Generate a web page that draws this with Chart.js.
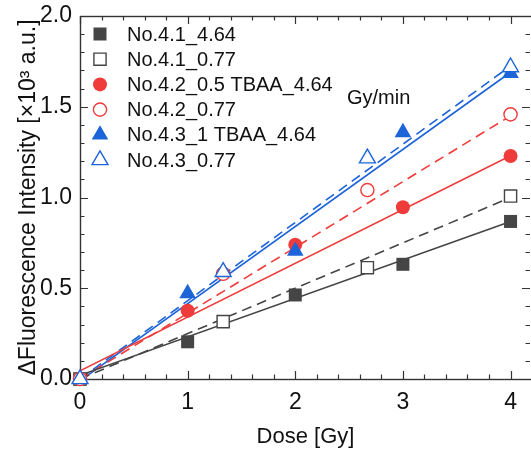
<!DOCTYPE html>
<html>
<head>
<meta charset="utf-8">
<script src="https://cdn.jsdelivr.net/npm/chart.js@4/dist/chart.umd.min.js"></script>
<style>
  html, body { margin: 0; padding: 0; background: #fff; overflow: hidden; }
  #wrap { position: relative; width: 531px; height: 455px; }
  canvas { display: block; }
</style>
</head>
<body>
<div id="wrap"><canvas id="doseChart"></canvas></div>
<script>
// Doses (Gy): 4.64 Gy/min runs and 0.77 Gy/min runs
const doseFast = [0, 1, 2, 3, 4];
const doseSlow = [0, 1.33, 2.67, 4];

// Measured fluorescence change (x10^3 a.u.)
const no41Fast = [0, 0.205, 0.463, 0.632, 0.868];
const no41Slow = [0, 0.316, 0.613, 1.008];
const no42Fast = [0, 0.376, 0.74, 0.946, 1.229];
const no42Slow = [0, 0.58, 1.041, 1.458];
const no43Fast = [0, 0.472, 0.705, 1.359, 1.685];
const no43Slow = [0, 0.59, 1.216, 1.718];

// Linear fits, value at 0 Gy and at 4 Gy
const fitDose = [0, 4];
const fit41Fast = [0.02, 0.868];
const fit41Slow = [0, 1.0];
const fit42Fast = [0.045, 1.23];
const fit42Slow = [0, 1.45];
const fit43Fast = [-0.01, 1.69];
const fit43Slow = [0, 1.725];

const seriesLabels = ['No.4.1_4.64', 'No.4.1_0.77', 'No.4.2_0.5 TBAA_4.64',
                      'No.4.2_0.77', 'No.4.3_1 TBAA_4.64', 'No.4.3_0.77'];

const xTicks = [0, 1, 2, 3, 4];
const yTicks = [0, 0.5, 1.0, 1.5, 2.0];

const GRAY = '#454545';
const RED = '#f03b3b';
const BLUE = '#1c64d8';
const FONT = '"Liberation Sans", Arial, sans-serif';

function pts(xs, ys) {
    return xs.map((x, i) => ({ x: x, y: ys[i] }));
}

function markerSet(label, xs, ys, color, style, filled, radius) {
    return {
        label: label,
        data: pts(xs, ys),
        showLine: false,
        pointStyle: style,
        pointRadius: radius,
        pointHoverRadius: radius,
        pointBackgroundColor: filled ? color : '#fff',
        pointBorderColor: color,
        pointBorderWidth: filled ? 0 : 1.4,
        clip: false,
        order: 1,
        isMarker: true
    };
}

function fitSet(ys, color, dashed) {
    return {
        label: '',
        data: pts(fitDose, ys),
        showLine: true,
        borderColor: color,
        borderWidth: 1.6,
        borderDash: dashed ? [10, 6] : [],
        pointRadius: 0,
        order: 2,
        isMarker: false
    };
}

// Frame with inward major and minor ticks on all four sides
const framePlugin = {
    id: 'frame',
    beforeDatasetsDraw(chart) {
        const { ctx, chartArea: a, scales } = chart;
        const xs = scales.x, ys = scales.y;
        ctx.save();
        ctx.strokeStyle = '#333';
        ctx.lineWidth = 1.4;
        ctx.strokeRect(a.left + 0.5, a.top + 0.5, a.right - a.left + 2, a.bottom - a.top);
        ctx.lineWidth = 1.2;
        ctx.beginPath();
        for (let i = 0; i <= 21; i++) {
            const v = i * 0.2;
            if (v > xs.max) break;
            const px = Math.round(xs.getPixelForValue(v)) + 0.5;
            const len = i % 5 === 0 ? 8 : 4.5;
            ctx.moveTo(px, a.bottom); ctx.lineTo(px, a.bottom - len);
            ctx.moveTo(px, a.top); ctx.lineTo(px, a.top + len);
        }
        for (let i = 0; i <= 20; i++) {
            const v = i * 0.1;
            const py = Math.round(ys.getPixelForValue(v)) + 0.5;
            const len = i % 5 === 0 ? 8 : 4.5;
            ctx.moveTo(a.left, py); ctx.lineTo(a.left + len, py);
            ctx.moveTo(a.right - 1, py); ctx.lineTo(a.right - 1 - len, py);
        }
        ctx.stroke();
        ctx.restore();
    }
};

// Legend in the upper left corner plus the dose-rate note
const legendPlugin = {
    id: 'insideLegend',
    afterDraw(chart) {
        const ctx = chart.ctx;
        const sets = chart.data.datasets.filter(d => d.isMarker);
        ctx.save();
        ctx.font = '20px ' + FONT;
        ctx.textBaseline = 'middle';
        ctx.fillStyle = '#111';
        sets.forEach((d, i) => {
            const y = 34 + i * 25.2;
            ctx.fillStyle = d.pointBackgroundColor;
            ctx.strokeStyle = d.pointBorderColor;
            ctx.lineWidth = d.pointBorderWidth;
            Chart.helpers.drawPoint(ctx, {
                pointStyle: d.pointStyle,
                radius: d.pointRadius,
                rotation: 0,
                borderWidth: d.pointBorderWidth
            }, 100, y);
            ctx.fillStyle = '#111';
            ctx.fillText(d.label, 127, y + 1);
        });
        ctx.fillText('Gy/min', 347, 98);
        ctx.restore();
    }
};

const datasets = [
    markerSet(seriesLabels[0], doseFast, no41Fast, GRAY, 'rect', true, 9.2),
    markerSet(seriesLabels[1], doseSlow, no41Slow, GRAY, 'rect', false, 8.6),
    markerSet(seriesLabels[2], doseFast, no42Fast, RED, 'circle', true, 7),
    markerSet(seriesLabels[3], doseSlow, no42Slow, RED, 'circle', false, 6.6),
    markerSet(seriesLabels[4], doseFast, no43Fast, BLUE, 'triangle', true, 9.6),
    markerSet(seriesLabels[5], doseSlow, no43Slow, BLUE, 'triangle', false, 9.2),
    fitSet(fit41Fast, GRAY, false),
    fitSet(fit41Slow, GRAY, true),
    fitSet(fit42Fast, RED, false),
    fitSet(fit42Slow, RED, true),
    fitSet(fit43Fast, BLUE, false),
    fitSet(fit43Slow, BLUE, true)
];

// markers later in the list sit on top
datasets.forEach((d, i) => { if (d.isMarker) d.order = 1 - i * 0.1; });

const ctx = document.getElementById('doseChart').getContext('2d');
const doseChart = new Chart(ctx, {
    type: 'scatter',
    data: { datasets: datasets },
    options: {
        responsive: true,
        maintainAspectRatio: false,
        animation: false,
        layout: { autoPadding: false, padding: { top: 16, right: 0, left: 0, bottom: 0 } },
        plugins: {
            legend: { display: false },
            tooltip: { enabled: false }
        },
        scales: {
            x: {
                type: 'linear',
                min: 0,
                max: 4.19,
                afterFit: (s) => { s.height = 76; s.paddingLeft = 0; s.paddingRight = 0; },
                afterBuildTicks: (s) => { s.ticks = xTicks.map(v => ({ value: v })); },
                grid: { display: false, drawTicks: false },
                border: { display: false },
                ticks: {
                    padding: 10,
                    color: '#111',
                    font: { family: FONT, size: 23 },
                    callback: (v) => String(v)
                },
                title: {
                    display: true,
                    text: 'Dose [Gy]',
                    color: '#111',
                    font: { family: FONT, size: 22 },
                    padding: { top: 0, bottom: 5 }
                }
            },
            y: {
                type: 'linear',
                min: 0,
                max: 2.0,
                afterFit: (s) => { s.width = 80; s.paddingTop = 0; s.paddingBottom = 0; },
                afterBuildTicks: (s) => { s.ticks = yTicks.map(v => ({ value: v })); },
                grid: { display: false, drawTicks: false },
                border: { display: false },
                ticks: {
                    padding: 8,
                    color: '#111',
                    font: { family: FONT, size: 23 },
                    callback: (v) => v.toFixed(1)
                },
                title: {
                    display: true,
                    text: 'ΔFluorescence Intensity [×10³ a.u.]',
                    color: '#111',
                    font: { family: FONT, size: 23 },
                    padding: { top: 15, bottom: 0 }
                }
            }
        }
    },
    plugins: [framePlugin, legendPlugin]
});
</script>
</body>
</html>
